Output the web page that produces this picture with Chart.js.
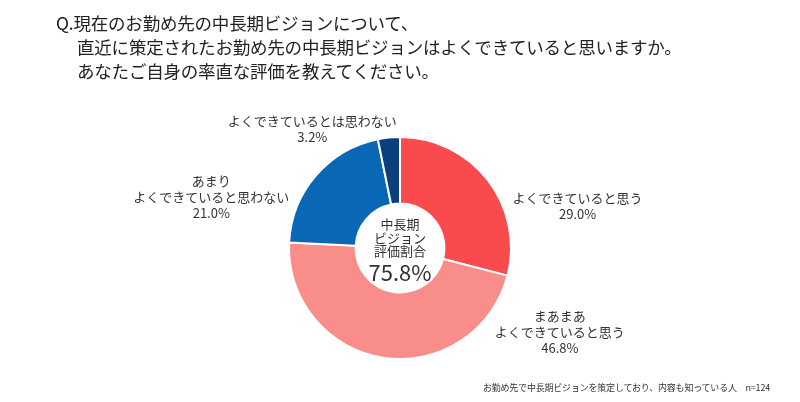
<!DOCTYPE html>
<html lang="ja">
<head>
<meta charset="utf-8">
<script src="https://cdn.jsdelivr.net/npm/chart.js@4.4.0/dist/chart.umd.min.js"></script>
<style>
  html, body { margin: 0; padding: 0; background: #fff; }
  #wrap { position: relative; width: 800px; height: 402px; overflow: hidden; font-family: "Noto Sans CJK JP", "Noto Sans", sans-serif; color: #222; }
  canvas { position: absolute; left: 0; top: 0; }
  .t { position: absolute; white-space: nowrap; font-size: 17.5px; line-height: 24px; color: #222; letter-spacing: -0.2px; }
  .foot { position: absolute; right: 30px; top: 381px; font-size: 9px; color: #333; white-space: nowrap; letter-spacing: -0.2px; }
  .center { position: absolute; left: 340px; width: 120px; text-align: center; color: #333; }
</style>
</head>
<body>
<div id="wrap">
  <canvas id="c" width="800" height="402"></canvas>
  <div class="t" style="left:56px; top:11px;">Q.現在のお勤め先の中長期ビジョンについて、</div>
  <div class="t" style="left:77px; top:35px;">直近に策定されたお勤め先の中長期ビジョンはよくできていると思いますか。</div>
  <div class="t" style="left:77px; top:59px;">あなたご自身の率直な評価を教えてください。</div>
  <div class="center" style="top:217px; font-size:13px; line-height:13.5px;">中長期<br>ビジョン<br>評価割合</div>
  <div class="center" style="top:258px; font-size:22px; line-height:26px;">75.8%</div>
  <div class="foot">お勤め先で中長期ビジョンを策定しており、内容も知っている人　n=124</div>
</div>
<script>
const categories = ["よくできていると思う", "まあまあ\nよくできていると思う", "あまり\nよくできていると思わない", "よくできているとは思わない"];
const values = [29.0, 46.8, 21.0, 3.2];
const valueLabels = ["29.0%", "46.8%", "21.0%", "3.2%"];
const colors = ["#F94B4E", "#F98D89", "#0A67B5", "#0C3F7E"];

const labelPlugin = {
  id: 'sliceLabels',
  afterDatasetsDraw(chart) {
    const ctx = chart.ctx;
    const meta = chart.getDatasetMeta(0);
    // label centre offsets from the doughnut centre, in units of the outer radius
    const place = [
      {fx: 1.60, fy: -0.38},
      {fx: 1.44, fy: 0.76},
      {fx: -1.70, fy: -0.46},
      {fx: -0.79, fy: -1.07}
    ];
    ctx.save();
    ctx.fillStyle = '#333';
    ctx.font = '13px "Noto Sans CJK JP", sans-serif';
    ctx.textAlign = 'center';
    ctx.textBaseline = 'middle';
    meta.data.forEach((arc, i) => {
      const p = arc.getProps(['x','y','outerRadius'], true);
      const cx = p.x + p.outerRadius * place[i].fx;
      const cy = p.y + p.outerRadius * place[i].fy;
      const lines = categories[i].split('\n').concat([valueLabels[i]]);
      const lh = 16;
      const y0 = cy - (lines.length - 1) * lh / 2;
      lines.forEach((s, k) => ctx.fillText(s, cx, y0 + k * lh));
    });
    ctx.restore();
  }
};

new Chart(document.getElementById('c'), {
  type: 'doughnut',
  data: {
    labels: categories,
    datasets: [{
      data: values,
      backgroundColor: colors,
      borderColor: '#fff',
      borderWidth: 2
    }]
  },
  options: {
    responsive: false,
    animation: false,
    cutout: '40%',
    layout: { padding: { top: 136, bottom: 42 } },
    plugins: { legend: { display: false }, tooltip: { enabled: false } }
  },
  plugins: [labelPlugin]
});
</script>
</body>
</html>
